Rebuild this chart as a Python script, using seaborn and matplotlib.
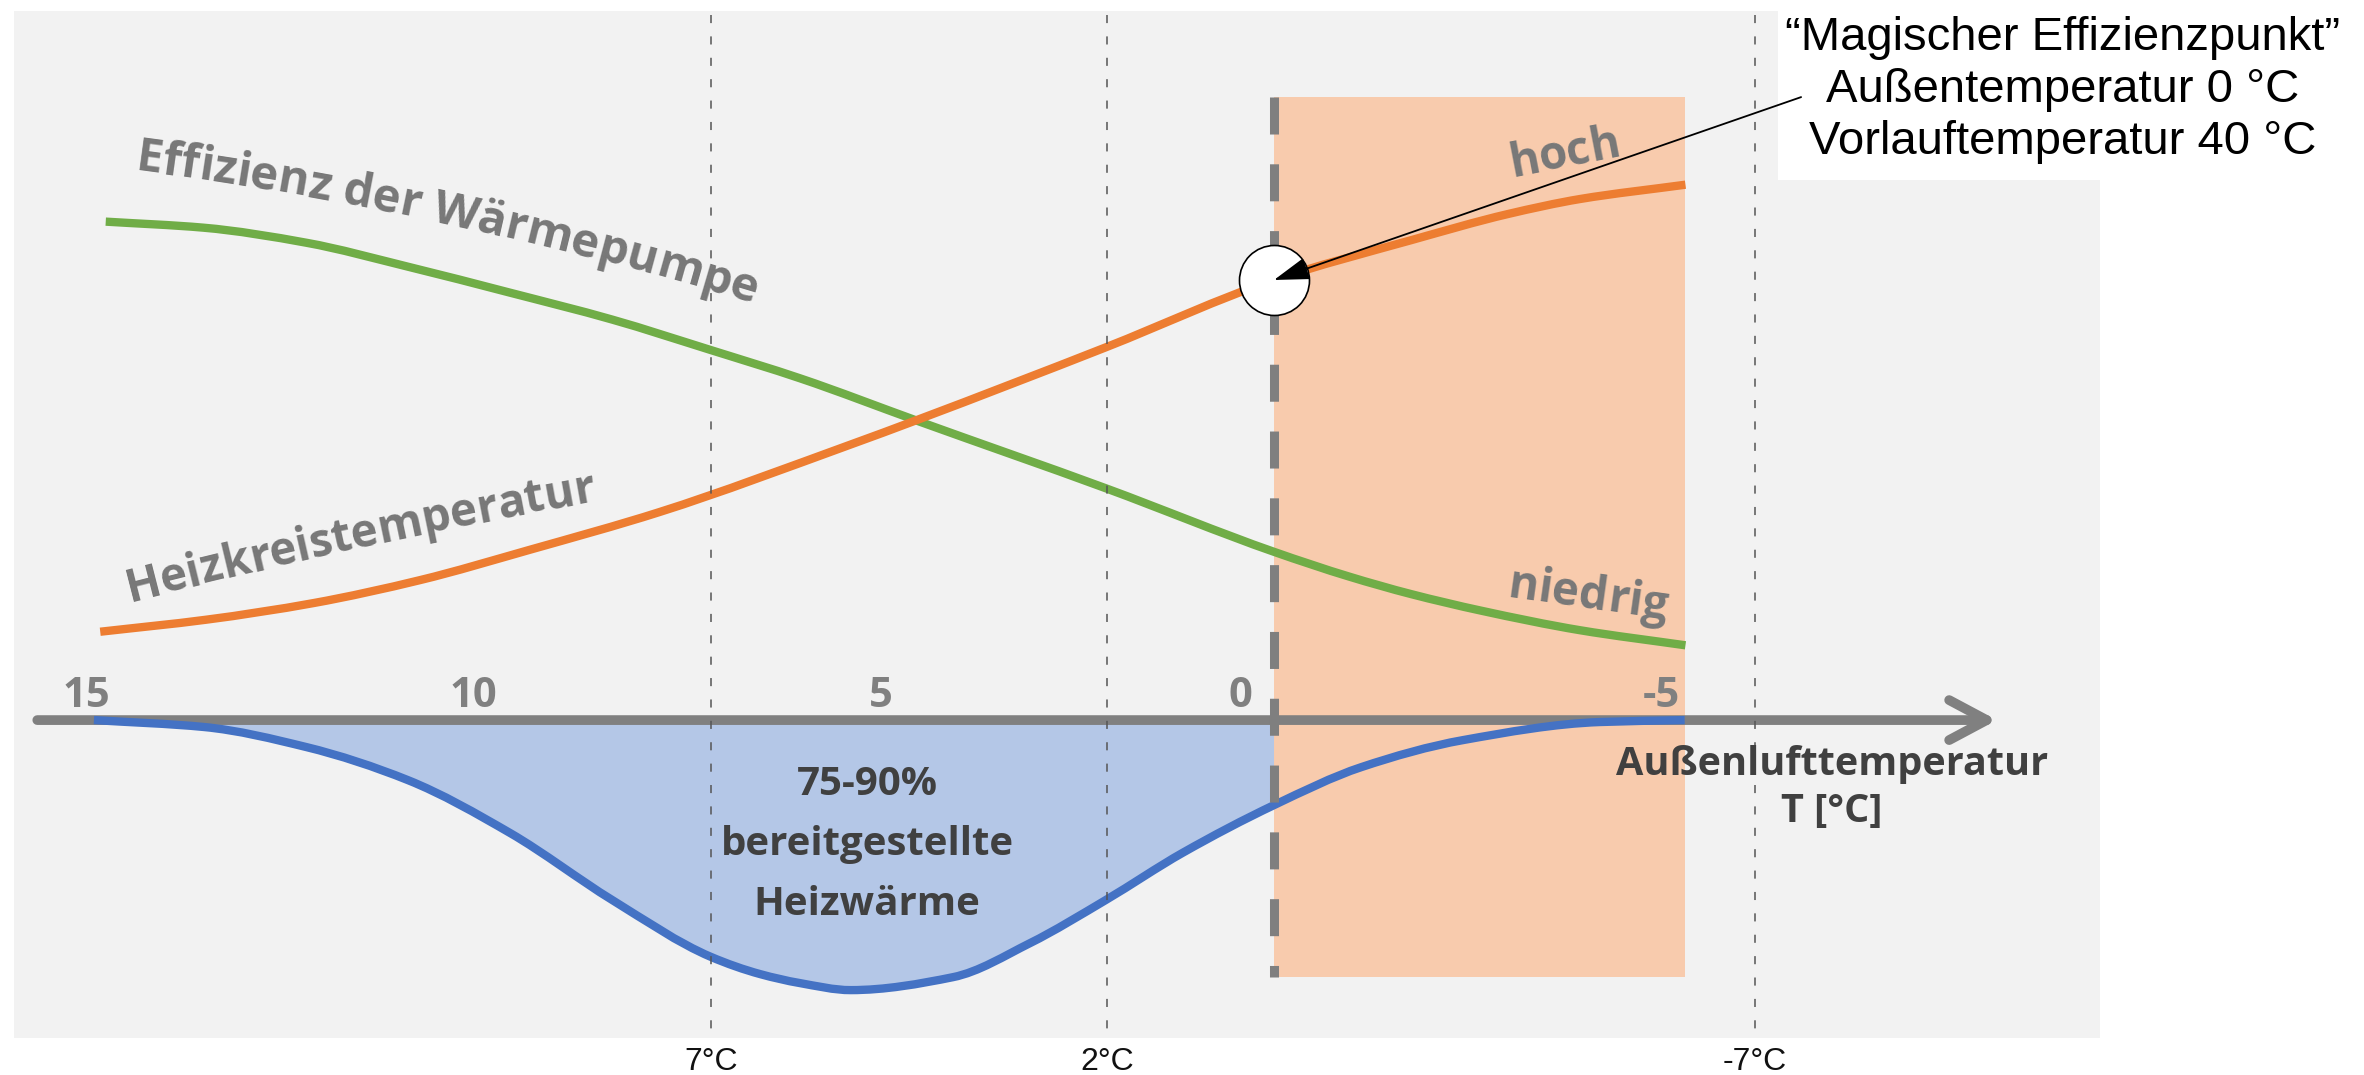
import numpy as np
import pandas as pd
import matplotlib
matplotlib.use("Agg")
import matplotlib.pyplot as plt
import seaborn as sns
from matplotlib.patches import Rectangle, PathPatch
from matplotlib.path import Path
from matplotlib.font_manager import FontProperties
from matplotlib.transforms import IdentityTransform

# ---------------- data ----------------
# outdoor temperature (°C) and relative curve heights (arbitrary units, axis = 0)
TEMP_EFF = [14.85, 13.61, 12.30, 11.00, 9.72, 8.41, 7.17, 6.02, 4.54, 2.13,
            0.0, -0.96, -1.74, -2.63, -3.89, -5.23]
EFFICIENCY = [330.6, 326.6, 316.6, 300.6, 283.6, 265.6, 245.6, 226.6, 198.6, 153.6,
              111.6, 95.1, 83.6, 72.6, 59.6, 49.6]

TEMP_FLOW = [14.92, 13.57, 12.21, 10.85, 9.47, 7.81, 5.39, 4.54, 2.13, 0.0,
             -1.75, -2.97, -3.89, -5.23]
FLOW_TEMP = [58.6, 66.6, 77.6, 92.9, 112.8, 138.0, 182.6, 199.0, 247.4, 291.9,
             318.4, 335.6, 345.6, 355.1]

TEMP_HEAT = [15.0, 13.60, 12.30, 11.01, 9.71, 8.41, 7.16, 6.53, 6.03, 5.38, 4.08,
             3.10, 2.14, 1.16, 0.0, -1.11, -2.40, -4.14, -5.22]
HEAT_DEMAND = [0.0, -4.6, -17.9, -39.8, -74.9, -119.4, -157.0, -168.5, -174.4,
               -179.1, -170.5, -147.9, -119.4, -88.0, -56.4, -31.2, -13.3, -1.3, 0.0]

TICK_VALUES = [15, 10, 5, 0, -5]
TICK_LABELS = ["15", "10", "5", "0", "-5"]

REF_TEMPS = [7.16, 2.12, -6.11]
REF_LABELS = ["7°C", "2°C", "-7°C"]

MAGIC_T = 0.0
MAGIC_Y = 291.9
ZONE_T = [0.0, -5.22]          # cold zone shaded in orange

MAGIC_TEXT = ["\u201cMagischer Effizienzpunkt\u201d",
              "Außentemperatur 0 °C",
              "Vorlauftemperatur 40 °C"]
SHARE_TEXT = ["75-90%", "bereitgestellte", "Heizwärme"]
AXIS_TEXT = ["Außenlufttemperatur", "T [°C]"]

# ---------------- style ----------------
sns.set_theme(style="white")
plt.rcParams["font.family"] = ["Open Sans", "DejaVu Sans"]

GREEN = "#70ad47"
ORANGE = "#ed7d31"
BLUE = "#4472c4"
BLUE_FILL = "#b4c7e7"
PEACH = "#f8cbad"
PANEL = "#f2f2f2"
AXIS_GRAY = "#808080"
LABEL_GRAY = "#787878"
DARK = "#404040"

fig = plt.figure(figsize=(23.64, 10.75), dpi=100)
ax = fig.add_axes([0, 0, 1, 1])
ax.set_xlim(16.194, -13.855)
ax.set_ylim(-235.4, 477.6)


def smooth_segments(x, y):
    """Cubic Bezier segments through the points, monotone Hermite tangents."""
    x = np.asarray(x, float)
    y = np.asarray(y, float)
    h = np.diff(x)
    d = np.diff(y) / h
    n = len(x)
    m = np.zeros(n)
    m[0], m[-1] = d[0], d[-1]
    for i in range(1, n - 1):
        if d[i - 1] * d[i] <= 0:
            m[i] = 0.0
        else:
            w1 = 2 * h[i] + h[i - 1]
            w2 = h[i] + 2 * h[i - 1]
            m[i] = (w1 + w2) / (w1 / d[i - 1] + w2 / d[i])
    segs = []
    for i in range(n - 1):
        p1 = np.array([x[i], y[i]])
        p2 = np.array([x[i + 1], y[i + 1]])
        c1 = np.array([x[i] + h[i] / 3, y[i] + m[i] * h[i] / 3])
        c2 = np.array([x[i + 1] - h[i] / 3, y[i + 1] - m[i + 1] * h[i] / 3])
        segs.append((p1, c1, c2, p2))
    return segs


def segs_to_path(segs, extra=None, close=False):
    verts = [segs[0][0]]
    codes = [Path.MOVETO]
    for p1, c1, c2, p2 in segs:
        verts += [c1, c2, p2]
        codes += [Path.CURVE4] * 3
    if extra is not None:
        for v in extra:
            verts.append(v)
            codes.append(Path.LINETO)
    if close:
        verts.append(verts[0])
        codes.append(Path.CLOSEPOLY)
    return Path(np.array(verts), codes)


# background panel
ax.add_patch(Rectangle((-10.5, -210.9), 26.52, 681.2, color=PANEL, lw=0, zorder=0))

# cold zone
ax.add_patch(Rectangle((ZONE_T[1], -170.5), ZONE_T[0] - ZONE_T[1], 583.7,
                       color=PEACH, lw=0, zorder=1))

# heat demand fill up to 0 °C
heat = pd.DataFrame({"T": TEMP_HEAT, "v": HEAT_DEMAND})
heat_segs = smooth_segments(heat["T"], heat["v"])
n_warm = int((heat["T"] >= ZONE_T[0]).sum()) - 1
fill_path = segs_to_path(heat_segs[:n_warm],
                         extra=[(ZONE_T[0], 0.0), (heat["T"].iloc[0], 0.0)], close=True)
ax.add_patch(PathPatch(fill_path, facecolor=BLUE_FILL, edgecolor="none", zorder=1.5))

# temperature axis arrow
ax.annotate("", xy=(-9.19, 0), xytext=(15.72, 0),
            arrowprops=dict(arrowstyle="->,head_length=0.45,head_width=0.24",
                            lw=7, color=AXIS_GRAY, mutation_scale=60,
                            shrinkA=0, shrinkB=0),
            zorder=3)

# curves (smooth through the read points)
curves = [(pd.DataFrame({"T": TEMP_EFF, "v": EFFICIENCY}), GREEN),
          (pd.DataFrame({"T": TEMP_FLOW, "v": FLOW_TEMP}), ORANGE),
          (heat, BLUE)]
for d, c in curves:
    p = segs_to_path(smooth_segments(d["T"], d["v"]))
    ax.add_patch(PathPatch(p, facecolor="none", edgecolor=c, lw=6,
                           capstyle="butt", zorder=4))

# thick dashed boundary at 0 °C
ax.plot([ZONE_T[0], ZONE_T[0]], [413.2, -170.5], color="#7f7f7f", lw=6.5,
        dashes=(4.1, 3.3), zorder=5)

# thin dashed reference lines
for t, lab in zip(REF_TEMPS, REF_LABELS):
    ax.plot([t, t], [467.6, -209.0], color="#555555", lw=1.1,
            dashes=(5.3, 8.7), zorder=6)
    ax.text(t, -232.0, lab, ha="center", va="baseline", fontsize=23,
            family=["Liberation Sans", "DejaVu Sans"], color="#111111")

# tick numbers on the axis
TICK_NUDGE = [0.1, 0.18, 0.0, 0.43, 0.08]
for v, lab, n in zip(TICK_VALUES, TICK_LABELS, TICK_NUDGE):
    ax.text(v + n, 8.6, lab, ha="center", va="baseline", fontsize=30,
            fontweight="bold", color=AXIS_GRAY, zorder=7)

# axis title
ax.text(-7.09, -36.5, AXIS_TEXT[0], ha="center", va="baseline", fontsize=28.5,
        fontweight="bold", color=DARK, zorder=7)
ax.text(-7.09, -67.7, AXIS_TEXT[1], ha="center", va="baseline", fontsize=28.5,
        fontweight="bold", color=DARK, zorder=7)

# share text
for yy, line in zip([-49.7, -89.5, -129.3], SHARE_TEXT):
    ax.text(5.17, yy, line, ha="center", va="baseline", fontsize=29,
            fontweight="bold", color=DARK, zorder=7)

# curved labels
renderer = fig.canvas.get_renderer()


def arc_text(s, x, y, a0, a1, size, color):
    fp = FontProperties(family=["Open Sans", "DejaVu Sans"], weight="bold", size=size)

    def width(t):
        w, h, d = renderer.get_text_width_height_descent(t, fp, ismath=False)
        return w

    wx = width("x")

    def adv(t):
        return width(t + "x") - wx if t else 0.0

    L = adv(s)
    X0, Y0 = ax.transData.transform((x, y))
    a0r, a1r = np.radians(a0), np.radians(a1)
    k = (a1r - a0r) / L
    for i, ch in enumerate(s):
        if ch == " ":
            continue
        c = 0.5 * (adv(s[:i]) + adv(s[:i + 1]))
        th = a0r + k * c
        if abs(k) < 1e-9:
            px, py = X0 + c * np.cos(a0r), Y0 + c * np.sin(a0r)
        else:
            px = X0 + (np.sin(th) - np.sin(a0r)) / k
            py = Y0 - (np.cos(th) - np.cos(a0r)) / k
        ax.text(px, py, ch, transform=IdentityTransform(), rotation=np.degrees(th),
                rotation_mode="anchor", ha="center", va="baseline",
                fontproperties=fp, color=color, zorder=7)


arc_text("Effizienz der Wärmepumpe", 14.48, 364.8, -7.5, -17.0, 34, LABEL_GRAY)
arc_text("Heizkreistemperatur", 14.54, 78.3, 14.5, 10.0, 33, LABEL_GRAY)
arc_text("hoch", -3.03, 360.2, 11.0, 11.0, 33, LABEL_GRAY)
arc_text("niedrig", -2.96, 81.6, -8.0, -8.0, 33, LABEL_GRAY)

# magic point marker + callout
sns.scatterplot(x=[MAGIC_T], y=[MAGIC_Y], s=2540, color="white",
                edgecolor="black", linewidth=1.2, ax=ax, zorder=8)
ax.add_patch(Rectangle((-13.855, 358.2), 13.855 - 6.41, 120, color="white",
                       lw=0, zorder=8))
ax.annotate("", xy=(MAGIC_T, MAGIC_Y), xytext=(-6.70, 413.2),
            arrowprops=dict(arrowstyle="-|>,head_length=1.1,head_width=0.35",
                            mutation_scale=20, lw=1.3, color="black",
                            shrinkA=0, shrinkB=0),
            zorder=9)
for yy, line in zip([444.4, 410.0, 375.5], MAGIC_TEXT):
    ax.text(-10.02, yy, line, ha="center", va="baseline", fontsize=34,
            family=["Liberation Sans", "DejaVu Sans"], color="black", zorder=9)

ax.set_xlabel("")
ax.set_ylabel("")
ax.set_axis_off()
fig.savefig("out.png", dpi=100, facecolor="white")
